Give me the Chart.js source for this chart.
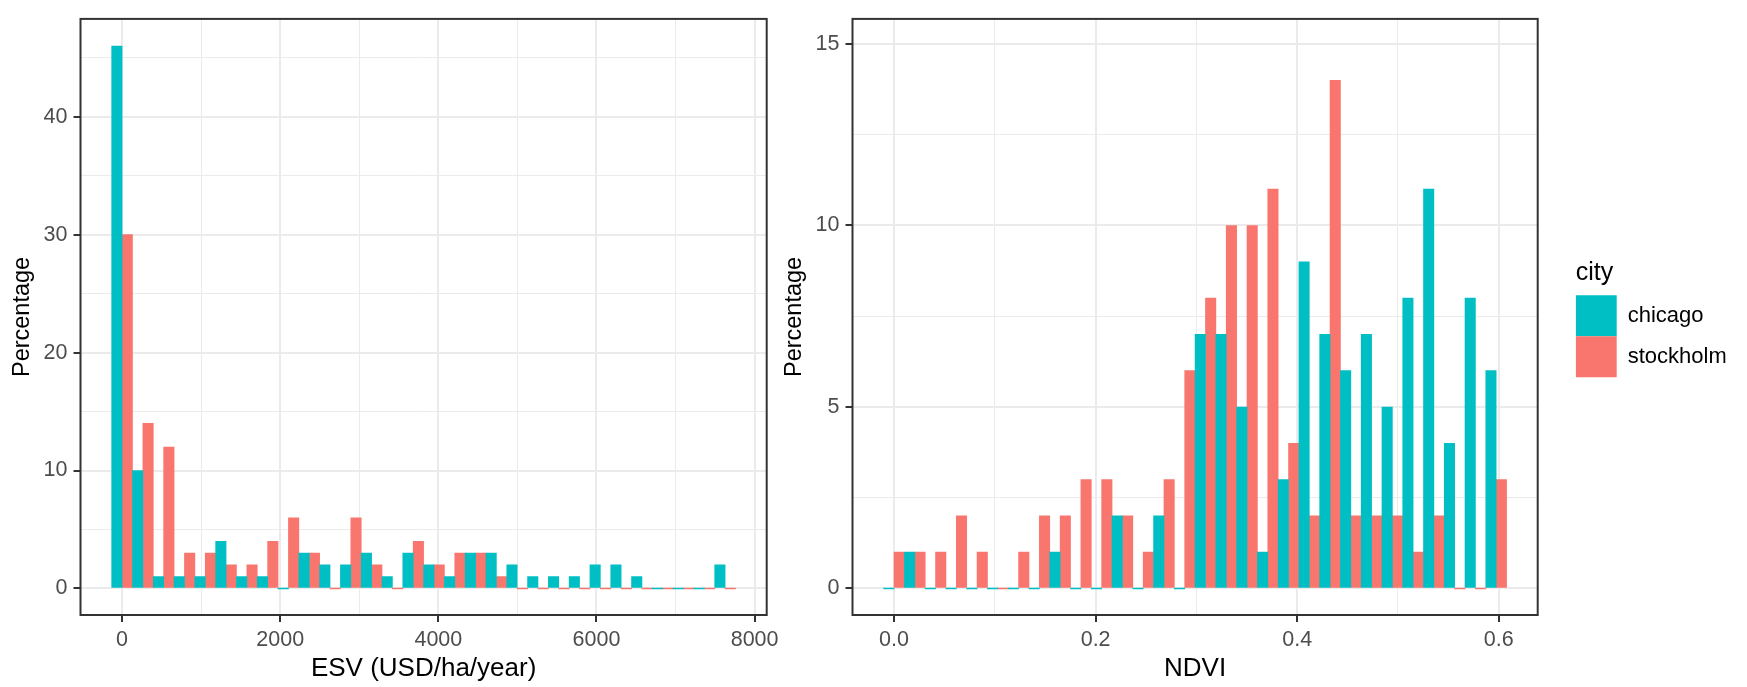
<!DOCTYPE html>
<html lang="en">
<head>
<meta charset="utf-8">
<title>ESV and NDVI per city</title>
<script src="https://cdn.jsdelivr.net/npm/chart.js@4/dist/chart.umd.min.js"></script>
<style>
    html, body { margin: 0; padding: 0; background: #ffffff; }
    #wrap { position: relative; width: 1747px; height: 687px; overflow: hidden; }
    #esvChart { position: absolute; left: 0; top: 0; }
    #ndviChart { position: absolute; left: 772px; top: 0; }
</style>
</head>
<body>
<div id="wrap">
    <canvas id="esvChart" width="790" height="687"></canvas>
    <canvas id="ndviChart" width="975" height="687"></canvas>
</div>
<script>
"use strict"

//städer och färger
const cities = ["chicago", "stockholm"];
const cityColors = ["#00BFC4", "#F8766D"];

//ESV - mitten på varje stapelgrupp (bin) och procent per stad
const esvBins = [0, 263, 526, 789, 1052, 1315, 1578, 1841, 2104, 2367, 2630, 2893, 3156, 3419, 3682,
    3945, 4208, 4471, 4734, 4997, 5260, 5523, 5786, 6049, 6312, 6575, 6838, 7101, 7364, 7627];
const esvChicago = [46, 10, 1, 1, 1, 4, 1, 1, 0, 3, 2, 2, 3, 1, 3, 2, 1, 3, 3, 2, 1, 1, 1, 2, 2, 1, 0, 0, 0, 2];
const esvStockholm = [30, 14, 12, 3, 3, 2, 2, 4, 6, 3, 0, 6, 2, 0, 4, 2, 3, 3, 1, 0, 0, 0, 0, 0, 0, 0, 0, 0, 0, 0];
const esvTicks = [0, 2000, 4000, 6000, 8000];
const esvTickLabels = ["0", "2000", "4000", "6000", "8000"];
const esvMinor = [1000, 3000, 5000, 7000];
const esvPctTicks = [0, 10, 20, 30, 40];
const esvPctLabels = ["0", "10", "20", "30", "40"];
const esvPctMinor = [5, 15, 25, 35, 45];

//NDVI
const ndviBins = [0, 0.0206, 0.0412, 0.0618, 0.0824, 0.103, 0.1236, 0.1442, 0.1648, 0.1854, 0.206, 0.2266,
    0.2472, 0.2678, 0.2884, 0.309, 0.3296, 0.3502, 0.3708, 0.3914, 0.412, 0.4326, 0.4532, 0.4738, 0.4944,
    0.515, 0.5356, 0.5562, 0.5768, 0.5974];
const ndviChicago = [0, 1, 0, 0, 0, 0, 0, 0, 1, 0, 0, 2, 0, 2, 0, 7, 7, 5, 1, 3, 9, 7, 6, 7, 5, 8, 11, 4, 8, 6];
const ndviStockholm = [1, 1, 1, 2, 1, 0, 1, 2, 2, 3, 3, 2, 1, 3, 6, 8, 10, 10, 11, 4, 2, 14, 2, 2, 2, 1, 2, 0, 0, 3];
const ndviTicks = [0, 0.2, 0.4, 0.6];
const ndviTickLabels = ["0.0", "0.2", "0.4", "0.6"];
const ndviMinor = [0.1, 0.3, 0.5];
const ndviPctTicks = [0, 5, 10, 15];
const ndviPctLabels = ["0", "5", "10", "15"];
const ndviPctMinor = [2.5, 7.5, 12.5];

Chart.defaults.font.family = "'Liberation Sans', Arial, sans-serif";
Chart.defaults.color = "#4D4D4D";

/**
 * Sätter egna ticks (stora + små) på en axel, bara de stora får text.
 */
function customTicks(major, labels, minor) {
    return {
        afterBuildTicks: (axis) => {
            let list = major.map((v) => ({ value: v }))
                .concat(minor.map((v) => ({ value: v, minor: true })));
            axis.ticks = list.sort((a, b) => a.value - b.value);
        },
        callback: (value) => {
            const i = major.indexOf(value);
            return i === -1 ? "" : labels[i];
        }
    };
}

//rutnät i ggplot-stil
const gridStyle = {
    color: "#EBEBEB",
    lineWidth: (ctx) => (ctx.tick && ctx.tick.minor) ? 1 : 2,
    tickColor: (ctx) => (ctx.tick && ctx.tick.minor) ? "rgba(0,0,0,0)" : "#333333",
    tickWidth: 2,
    tickLength: 7,
    offset: false
};

//ram runt panelen
const panelBorder = {
    id: "panelBorder",
    afterDatasetsDraw(chart) {
        const { ctx, chartArea } = chart;
        ctx.save();
        ctx.strokeStyle = "#333333";
        ctx.lineWidth = 2;
        ctx.strokeRect(chartArea.left, chartArea.top, chartArea.right - chartArea.left, chartArea.bottom - chartArea.top);
        ctx.restore();
    }
};

function makeDatasets(bins, chicago, stockholm) {
    return [chicago, stockholm].map((values, d) => ({
        label: cities[d],
        data: bins.map((b, i) => ({ x: b, y: values[i] })),
        backgroundColor: cityColors[d],
        borderWidth: 0,
        categoryPercentage: 1,
        barPercentage: 1,
        minBarLength: 1,
        xAxisID: "x",
        yAxisID: "y"
    }));
}

function xScale(min, max, major, labels, minor, title) {
    const t = customTicks(major, labels, minor);
    return {
        type: "linear",
        min: min,
        max: max,
        offset: false,
        grid: gridStyle,
        border: { display: false },
        ticks: { autoSkip: false, maxRotation: 0, padding: 5, color: "#4D4D4D", font: { size: 21.5 }, callback: t.callback },
        afterBuildTicks: t.afterBuildTicks,
        afterFit: (scale) => { scale.height = 72; },
        title: { display: true, text: title, color: "#000000", font: { size: 26 }, padding: { top: 0, bottom: 3 } }
    };
}

function yScale(min, max, major, labels, minor) {
    const t = customTicks(major, labels, minor);
    return {
        type: "linear",
        position: "left",
        min: min,
        max: max,
        grid: gridStyle,
        border: { display: false },
        ticks: { autoSkip: false, padding: 6, color: "#4D4D4D", font: { size: 21.5 }, callback: t.callback },
        afterBuildTicks: t.afterBuildTicks,
        afterFit: (scale) => { scale.width = 80.5; },
        title: { display: true, text: "Percentage", color: "#000000", font: { size: 23.5 }, padding: { top: 8, bottom: 0 } }
    };
}

//vänster diagram - ESV
new Chart(document.getElementById("esvChart"), {
    type: "bar",
    data: { datasets: makeDatasets(esvBins, esvChicago, esvStockholm) },
    options: {
        responsive: false,
        animation: false,
        devicePixelRatio: 1,
        layout: { padding: { left: 0, top: 8.5, right: 23.3, bottom: 0 } },
        scales: {
            x: xScale(-526, 8153, esvTicks, esvTickLabels, esvMinor, "ESV (USD/ha/year)"),
            y: yScale(-2.25, 48.3, esvPctTicks, esvPctLabels, esvPctMinor)
        },
        plugins: { legend: { display: false }, tooltip: { enabled: false } }
    },
    plugins: [panelBorder]
});

//höger diagram - NDVI, med förklaring
new Chart(document.getElementById("ndviChart"), {
    type: "bar",
    data: { datasets: makeDatasets(ndviBins, ndviChicago, ndviStockholm) },
    options: {
        responsive: false,
        animation: false,
        devicePixelRatio: 1,
        layout: { padding: { left: 0, top: 8.5, right: 21.3, bottom: 0 } },
        scales: {
            x: xScale(-0.0412, 0.6386, ndviTicks, ndviTickLabels, ndviMinor, "NDVI"),
            y: yScale(-0.73, 15.69, ndviPctTicks, ndviPctLabels, ndviPctMinor),
            //tomt utrymme mellan panel och förklaring
            gap: {
                type: "linear",
                position: "right",
                grid: { display: false },
                border: { display: false },
                ticks: { display: false },
                afterFit: (scale) => { scale.width = 38; }
            }
        },
        plugins: {
            tooltip: { enabled: false },
            legend: {
                display: true,
                position: "right",
                align: "center",
                fullSize: false,
                maxWidth: 150,
                title: { display: true, text: "city", position: "start", color: "#000000", font: { size: 25 }, padding: { top: 4, bottom: 4.5 } },
                labels: { boxWidth: 41, boxHeight: 41, padding: 0, color: "#000000", font: { size: 22 } }
            }
        }
    },
    plugins: [panelBorder]
});
</script>
</body>
</html>
